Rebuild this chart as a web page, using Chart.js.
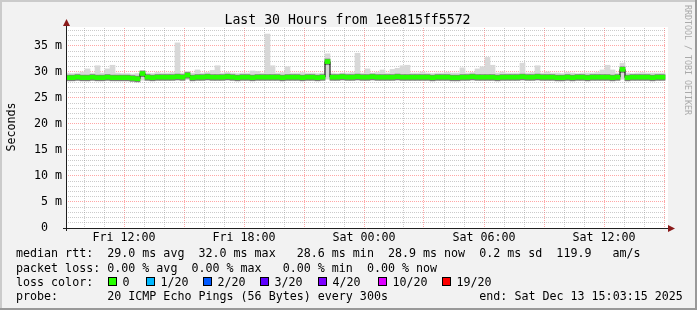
<!DOCTYPE html>
<html>
<head>
<meta charset="utf-8">
<script src="https://cdn.jsdelivr.net/npm/chart.js@4/dist/chart.umd.min.js"></script>
<style>
  html, body { margin: 0; padding: 0; background: #f2f2f2; }
  canvas { display: block; }
</style>
</head>
<body>
<canvas id="rttChart" width="697" height="310"></canvas>
<script>
// time axis in hours since Fri 00:00
const hourStart = 9.1;
const hourEnd = 39.1;
const binStart = 9.175;   // centre of first 15 min bin
const binStep = 0.25;
const tickHours = [12, 18, 24, 30, 36];
const tickLabels = ['Fri 12:00', 'Fri 18:00', 'Sat 00:00', 'Sat 06:00', 'Sat 12:00'];

// median rtt per bin (ms)
const median = [
  28.9, 28.9, 29.0, 28.9, 28.9, 29.0, 28.9, 28.9, 29.0, 28.9,
  28.9, 28.9, 28.9, 28.8, 28.7, 29.7, 29.0, 28.9, 29.0, 29.0,
  29.0, 29.0, 29.1, 29.0, 29.4, 28.9, 29.0, 29.0, 29.1, 29.0,
  29.0, 29.0, 29.1, 29.0, 28.9, 29.0, 29.0, 28.9, 29.0, 29.0,
  29.0, 29.0, 29.0, 28.9, 29.0, 29.0, 29.0, 28.9, 29.0, 29.0,
  28.9, 29.0, 32.0, 29.0, 29.0, 29.1, 29.0, 29.0, 29.1, 29.0,
  29.0, 29.1, 29.0, 29.0, 29.0, 29.0, 29.1, 29.0, 29.0, 29.0,
  29.0, 29.0, 29.0, 28.9, 29.0, 29.0, 29.0, 28.9, 28.9, 29.0,
  29.0, 29.1, 29.0, 29.0, 29.0, 29.0, 28.9, 29.0, 29.0, 29.0,
  29.0, 29.1, 29.0, 29.0, 29.1, 29.0, 29.0, 29.0, 28.9, 28.9,
  29.0, 28.9, 29.0, 29.0, 28.9, 29.0, 29.0, 29.0, 29.0, 28.9,
  29.0, 30.5, 28.9, 29.0, 29.0, 29.0, 29.0, 28.9, 29.0, 29.0
];

// smoke: highest ping per bin (ms)
const smokeHi = [
  29.8, 29.7, 29.8, 30.0, 30.6, 29.8, 31.2, 29.8, 30.6, 31.3,
  29.8, 29.7, 29.7, 29.6, 29.7, 30.2, 29.8, 29.7, 29.9, 29.8,
  29.8, 29.9, 35.6, 29.8, 30.1, 29.8, 30.4, 29.8, 29.9, 30.3,
  31.2, 29.8, 29.9, 29.8, 29.7, 29.8, 29.8, 30.2, 30.1, 29.8,
  37.3, 31.2, 29.8, 29.9, 31.0, 29.8, 29.8, 29.9, 29.8, 29.8,
  29.7, 29.8, 33.5, 29.8, 29.7, 29.8, 29.8, 29.9, 33.6, 29.8,
  30.6, 29.8, 29.9, 30.4, 29.8, 30.5, 30.7, 31.2, 31.3, 29.8,
  29.8, 30.0, 29.8, 29.7, 29.8, 29.8, 29.9, 29.8, 29.8, 30.8,
  29.8, 29.9, 30.6, 31.0, 32.8, 31.3, 29.8, 30.0, 29.8, 29.8,
  29.8, 31.7, 29.8, 29.9, 31.2, 29.8, 30.0, 29.8, 29.8, 29.7,
  29.9, 29.8, 29.7, 29.8, 29.8, 29.8, 29.9, 30.4, 31.3, 30.4,
  29.8, 31.7, 29.8, 29.7, 29.8, 29.9, 29.8, 29.8, 29.8, 29.8
];

// smoke: lowest ping per bin (ms)
const smokeLo = [
  28.4, 28.4, 28.4, 28.4, 28.3, 28.4, 28.4, 28.4, 28.4, 28.4,
  28.4, 28.4, 28.4, 28.3, 28.3, 28.4, 28.4, 28.4, 28.4, 28.4,
  28.4, 28.4, 28.4, 28.4, 28.5, 28.4, 28.4, 28.4, 28.4, 28.4,
  28.4, 28.4, 28.4, 28.4, 28.3, 28.4, 28.4, 28.4, 28.4, 28.4,
  28.4, 28.4, 28.4, 28.3, 28.4, 28.4, 28.4, 28.4, 28.4, 28.4,
  28.4, 28.4, 28.6, 28.4, 28.4, 28.4, 28.4, 28.4, 28.4, 28.4,
  28.4, 28.4, 28.4, 28.4, 28.4, 28.4, 28.4, 28.4, 28.4, 28.4,
  28.4, 28.4, 28.4, 28.3, 28.4, 28.4, 28.4, 28.3, 28.3, 28.4,
  28.4, 28.4, 28.4, 28.4, 28.4, 28.4, 28.3, 28.4, 28.4, 28.4,
  28.4, 28.4, 28.4, 28.4, 28.4, 28.4, 28.4, 28.4, 28.3, 28.3,
  28.4, 28.3, 28.4, 28.4, 28.3, 28.4, 28.4, 28.4, 28.4, 28.3,
  28.4, 28.6, 28.3, 28.4, 28.4, 28.4, 28.4, 28.3, 28.4, 28.4
];

// legend
const titleText = 'Last 30 Hours from 1ee815ff5572';
const rttLine = 'median rtt:  29.0 ms avg  32.0 ms max   28.6 ms min  28.9 ms now  0.2 ms sd  119.9   am/s';
const lossLine = 'packet loss: 0.00 % avg  0.00 % max   0.00 % min  0.00 % now';
const lossLabels = ['0', '1/20', '2/20', '3/20', '4/20', '10/20', '19/20'];
const lossColors = ['#26ff00', '#00b8ff', '#0059ff', '#5e00ff', '#7e00ff', '#dd00ff', '#ff0000'];
const lossBoxX = [108, 146, 203, 260, 318, 378, 442];
const probeText = 'probe:       20 ICMP Echo Pings (56 Bytes) every 300s';
const endText = 'end: Sat Dec 13 15:03:15 2025';

const mono = '"DejaVu Sans Mono", monospace';
const times = median.map((_, i) => binStart + i * binStep);

const frame = {
    id: 'frame',
    beforeDraw(chart) {
        const c = chart.ctx, a = chart.chartArea;
        c.save();
        c.fillStyle = '#f2f2f2';
        c.fillRect(0, 0, 697, 310);
        c.fillStyle = '#cbcbcb';
        c.fillRect(0, 0, 697, 2);
        c.fillRect(0, 0, 2, 310);
        c.fillStyle = '#999999';
        c.fillRect(0, 308, 697, 2);
        c.fillRect(695, 0, 2, 310);
        c.fillStyle = '#ffffff';
        c.fillRect(a.left, a.top - 1, a.right - a.left + 2, a.bottom - a.top + 1);
        c.restore();
    },
    afterDraw(chart) {
        const c = chart.ctx, a = chart.chartArea;
        c.save();
        // axes
        c.strokeStyle = '#1f1f1f';
        c.lineWidth = 1;
        c.beginPath();
        c.moveTo(a.left + 0.5, 231); c.lineTo(a.left + 0.5, 24);
        c.moveTo(a.left - 3, a.bottom + 0.5); c.lineTo(670, a.bottom + 0.5);
        c.stroke();
        c.fillStyle = '#8a1a1a';
        c.beginPath();
        c.moveTo(a.left + 0.5, 19); c.lineTo(a.left - 3, 26); c.lineTo(a.left + 4, 26);
        c.closePath(); c.fill();
        c.beginPath();
        c.moveTo(675, a.bottom + 0.5); c.lineTo(668, a.bottom - 3); c.lineTo(668, a.bottom + 4);
        c.closePath(); c.fill();

        c.fillStyle = '#000';
        c.textBaseline = 'alphabetic';
        c.font = '13.2px ' + mono;
        c.textAlign = 'center';
        c.fillText(titleText, 347.5, 24);

        c.font = '11.66px ' + mono;
        c.save();
        c.translate(15, 127);
        c.rotate(-Math.PI / 2);
        c.fillText('Seconds', 0, 0);
        c.restore();

        c.textAlign = 'left';
        c.fillText(rttLine, 16, 257);
        c.fillText(lossLine, 16, 271.5);
        c.fillText('loss color:', 16, 285.5);
        lossLabels.forEach((lab, i) => {
            c.fillStyle = lossColors[i];
            c.fillRect(lossBoxX[i], 277, 8, 8);
            c.strokeStyle = '#000';
            c.strokeRect(lossBoxX[i] + 0.5, 277.5, 8, 8);
            c.fillStyle = '#000';
            c.fillText(lab, lossBoxX[i] + 14.5, 285.5);
        });
        c.fillText(probeText, 16, 299.5);
        c.fillText(endText, 479.3, 299.5);

        c.fillStyle = '#aaaaaa';
        c.font = '8.3px ' + mono;
        c.translate(685, 5);
        c.rotate(Math.PI / 2);
        c.fillText('RRDTOOL / TOBI OETIKER', 0, 0);
        c.restore();
    }
};

// whole-unit ticks between two bounds
function unitTicks(from, to) {
    const t = [];
    for (let v = from; v <= to; v++) t.push({ value: v });
    return t;
}

new Chart(document.getElementById('rttChart').getContext('2d'), {
    type: 'bar',
    data: {
        datasets: [{
            label: 'smoke',
            data: times.map((t, i) => ({ x: t, y: [smokeLo[i], smokeHi[i]] })),
            backgroundColor: '#d8d8d8',
            order: 5
        }, {
            label: 'smoke core',
            data: times.map((t, i) => ({ x: t, y: [median[i] - 0.6, median[i] + 0.5] })),
            backgroundColor: '#7c7c7c',
            order: 4
        }, {
            type: 'line',
            label: 'median',
            data: times.map((t, i) => ({ x: t, y: median[i] })),
            borderColor: '#000000',
            borderWidth: 1,
            pointRadius: 0,
            stepped: 'middle',
            order: 3
        }, {
            label: 'median band',
            data: times.map((t, i) => ({ x: t, y: [median[i] - 0.38, median[i] + 0.38] })),
            backgroundColor: '#26ff00',
            order: 2
        }]
    },
    options: {
        responsive: false,
        animation: false,
        events: [],
        layout: { padding: { left: 0, top: 28, right: 31, bottom: 0 } },
        datasets: {
            bar: { barPercentage: 1, categoryPercentage: 1, grouped: false, borderWidth: 0 }
        },
        plugins: { legend: { display: false }, tooltip: { enabled: false }, title: { display: false } },
        scales: {
            x: {
                type: 'linear',
                min: hourStart,
                max: hourEnd,
                offset: false,
                afterFit: (s) => { s.height = 82; },
                afterBuildTicks: (s) => { s.ticks = unitTicks(10, 39); },
                border: { display: false, dash: [1, 1] },
                grid: {
                    offset: false,
                    drawTicks: false,
                    color: (ctx) => ctx.tick && ctx.tick.value % 3 === 0 ? 'rgba(255,0,0,0.35)' : 'rgba(140,140,140,0.45)'
                },
                ticks: {
                    autoSkip: false,
                    maxRotation: 0,
                    padding: 3,
                    color: '#000',
                    font: { family: mono, size: 11.66 },
                    callback: (v) => {
                        const k = tickHours.indexOf(v);
                        return k >= 0 ? tickLabels[k] : '';
                    }
                }
            },
            y: {
                min: 0,
                max: 38.46,
                afterFit: (s) => { s.width = 66; },
                afterBuildTicks: (s) => { s.ticks = unitTicks(0, 38); },
                border: { display: false, dash: [1, 1] },
                grid: {
                    drawTicks: false,
                    color: (ctx) => ctx.tick && ctx.tick.value % 5 === 0 ? 'rgba(255,0,0,0.35)' : 'rgba(140,140,140,0.45)'
                },
                ticks: {
                    autoSkip: false,
                    padding: 4,
                    color: '#000',
                    font: { family: mono, size: 11.66 },
                    callback: (v) => v % 5 === 0 ? (v === 0 ? '0  ' : v + ' m') : ''
                }
            }
        }
    },
    plugins: [frame]
});
</script>
</body>
</html>
